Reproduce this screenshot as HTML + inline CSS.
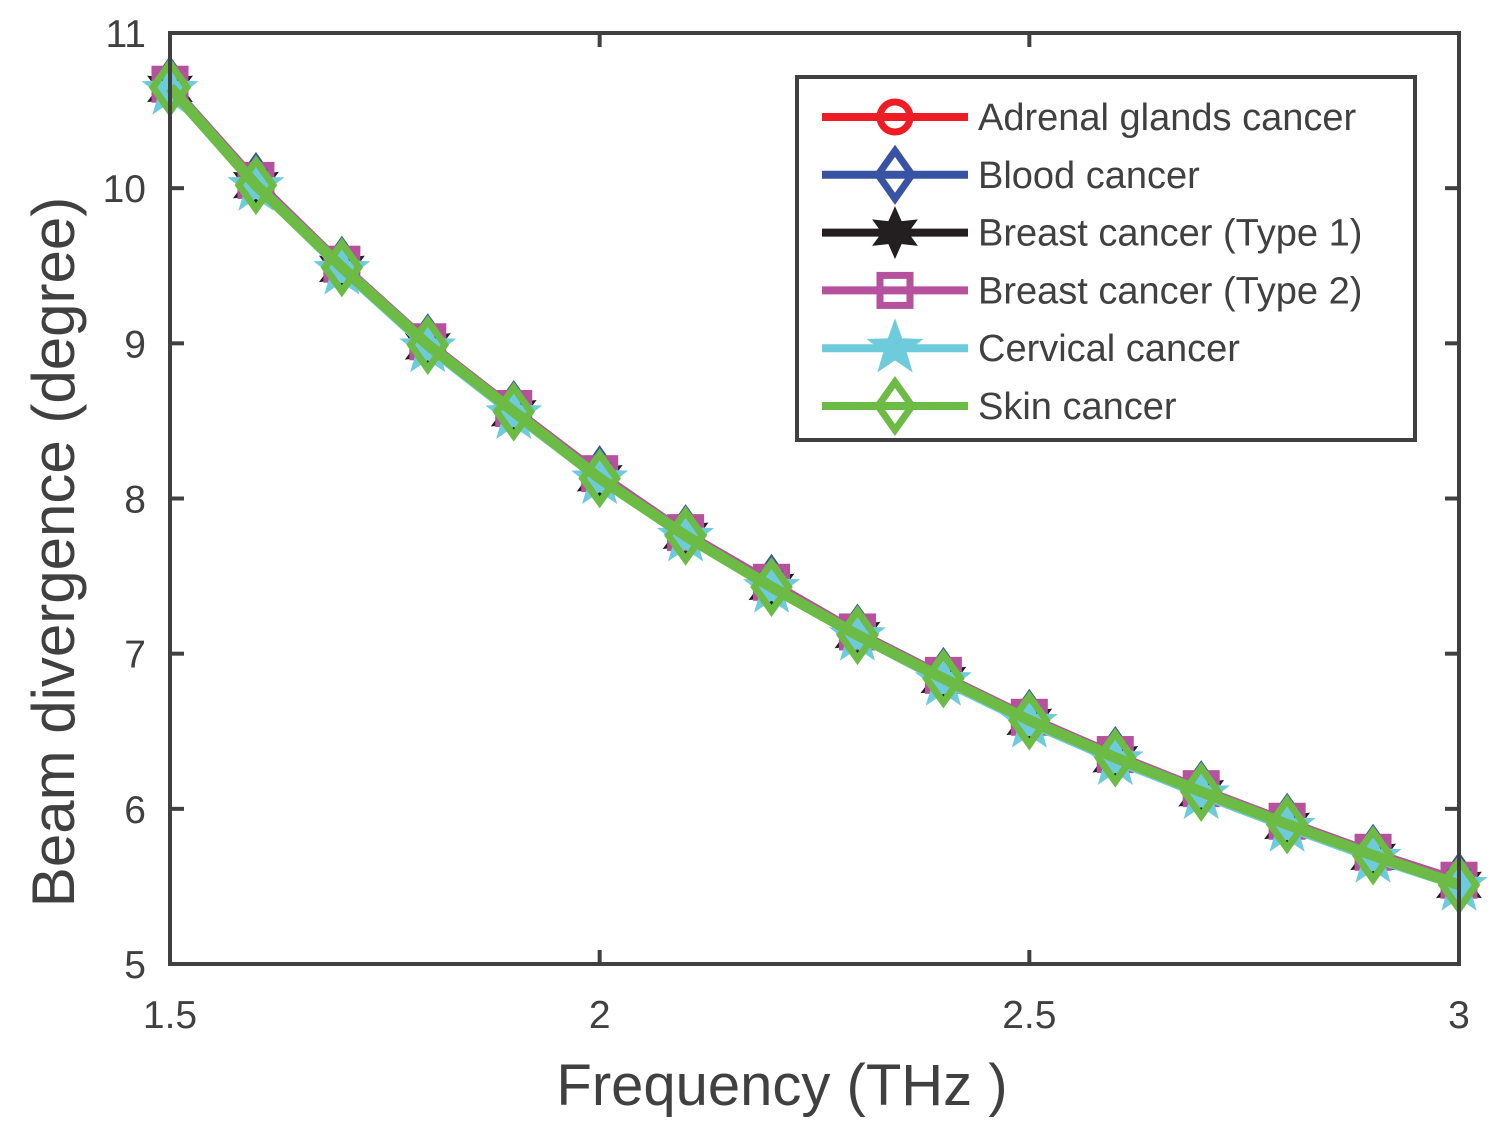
<!DOCTYPE html>
<html><head><meta charset="utf-8"><style>
body{margin:0;background:#fff}
svg text{font-family:"Liberation Sans",sans-serif;fill:#404040}
</style></head><body>
<svg id="chart" width="1510" height="1136" xmlns="http://www.w3.org/2000/svg">
<rect x="0" y="0" width="1510" height="1136" fill="#fff"/>
<g id="plot"></g>
<rect x="170" y="33" width="1289" height="931" fill="none" stroke="#404040" stroke-width="4"/>
<g id="axes"></g>
<text x="782" y="1105" font-size="58" text-anchor="middle">Frequency (THz )</text>
<text transform="translate(74,552) rotate(-90)" font-size="60" text-anchor="middle">Beam divergence (degree)</text>
<g id="legend"></g>
</svg>
<script>
const freqs=[1.5,1.6,1.7,1.8,1.9,2.0,2.1,2.2,2.3,2.4,2.5,2.6,2.7,2.8,2.9,3.0];
const adrenal=[10.65,10.03,9.49,8.99,8.56,8.14,7.77,7.44,7.13,6.84,6.57,6.33,6.11,5.90,5.70,5.52];
const blood=[10.66,10.04,9.50,9.00,8.57,8.15,7.77,7.45,7.13,6.85,6.58,6.34,6.12,5.91,5.71,5.53];
const breast1=[10.64,10.02,9.48,8.98,8.55,8.13,7.76,7.43,7.12,6.83,6.56,6.32,6.10,5.89,5.69,5.51];
const breast2=[10.67,10.05,9.51,9.01,8.58,8.16,7.78,7.46,7.14,6.86,6.59,6.35,6.13,5.92,5.72,5.54];
const cervical=[10.63,10.01,9.47,8.97,8.54,8.12,7.75,7.42,7.11,6.82,6.55,6.31,6.09,5.88,5.68,5.50];
const skin=[10.65,10.02,9.49,8.99,8.56,8.13,7.76,7.43,7.12,6.84,6.57,6.33,6.11,5.90,5.70,5.51];
const xTicks=[1.5,2,2.5,3];
const xTickLabels=["1.5","2","2.5","3"];
const yTicks=[5,6,7,8,9,10,11];
const seriesNames=["Adrenal glands cancer","Blood cancer","Breast cancer (Type 1)","Breast cancer (Type 2)","Cervical cancer","Skin cancer"];
const NS="http://www.w3.org/2000/svg";
const X=v=>170+(v-1.5)/1.5*1289;
const Y=v=>964-(v-5)/6*931;
function mk(tag,at,parent){const e=document.createElementNS(NS,tag);for(const k in at)e.setAttribute(k,at[k]);parent.appendChild(e);return e;}
const axes=document.getElementById('axes');
xTicks.forEach((t,i)=>{
 const l1=mk('line',{x1:X(t),x2:X(t),y1:964,y2:950,stroke:'#404040','stroke-width':4},axes);
 
 const l2=mk('line',{x1:X(t),x2:X(t),y1:33,y2:47,stroke:'#404040','stroke-width':4},axes);
 
 const tx=mk('text',{x:X(t),y:1028,'font-size':39,'text-anchor':'middle'},axes);tx.textContent=xTickLabels[i];
 
});
yTicks.forEach(t=>{
 const l1=mk('line',{x1:170,x2:184,y1:Y(t),y2:Y(t),stroke:'#404040','stroke-width':4},axes);
 
 const l2=mk('line',{x1:1445,x2:1459,y1:Y(t),y2:Y(t),stroke:'#404040','stroke-width':4},axes);
 
 const tx=mk('text',{x:146,y:Y(t)+14,'font-size':39,'text-anchor':'end'},axes);tx.textContent=String(t);
 
});
function star(cx,cy,R,r,n){let p=[];for(let i=0;i<2*n;i++){const a=-Math.PI/2+i*Math.PI/n;const rr=i%2?r:R;p.push((cx+rr*Math.cos(a)).toFixed(1)+','+(cy+rr*Math.sin(a)).toFixed(1));}return p.join(' ');}
function marker(kind,cx,cy,color,g){
 if(kind==='circle')return mk('circle',{cx,cy,r:15,fill:'none',stroke:color,'stroke-width':7},g);
 if(kind==='diamond')return mk('polygon',{points:`${cx},${cy-24} ${cx+17},${cy} ${cx},${cy+24} ${cx-17},${cy}`,fill:'none',stroke:color,'stroke-width':7},g);
 if(kind==='hex')return mk('polygon',{points:star(cx,cy,24,12,6),fill:color,stroke:color,'stroke-width':2},g);
 if(kind==='square')return mk('rect',{x:cx-15,y:cy-15,width:30,height:30,fill:'none',stroke:color,'stroke-width':7},g);
 if(kind==='star')return mk('polygon',{points:star(cx,cy,27,11,5),fill:color,stroke:color,'stroke-width':2},g);
}
const series=[[adrenal,'#ee1c24','circle'],[blood,'#3953a4','diamond'],[breast1,'#231f20','hex'],[breast2,'#b6519e','square'],[cervical,'#6dcbdc','star'],[skin,'#6cbb45','diamond']];
const plot=document.getElementById('plot');
series.forEach(([vals,color,kind],si)=>{
 const g=mk('g',{},plot);
 
 const pl=mk('polyline',{points:freqs.map((f,i)=>X(f)+','+Y(vals[i])).join(' '),fill:'none',stroke:color,'stroke-width':si===5?11:8,'stroke-linejoin':'round'},g);
 
 freqs.forEach((f,i)=>{const m=marker(kind,X(f),Y(vals[i]),color,g);
  });
});
const lg=document.getElementById('legend');
const box=mk('rect',{x:797,y:77,width:618,height:363,fill:'#fff',stroke:'#404040','stroke-width':4},lg);

series.forEach(([vals,color,kind],i)=>{
 const y=117+i*57.8;
 const g=mk('g',{},lg);
 
 mk('line',{x1:822,x2:968,y1:y,y2:y,stroke:color,'stroke-width':8},g);
 marker(kind,895,y,color,g);
 const t=mk('text',{x:978,y:y+13,'font-size':38},g);t.textContent=seriesNames[i];
 
});
</script>
</body></html>
